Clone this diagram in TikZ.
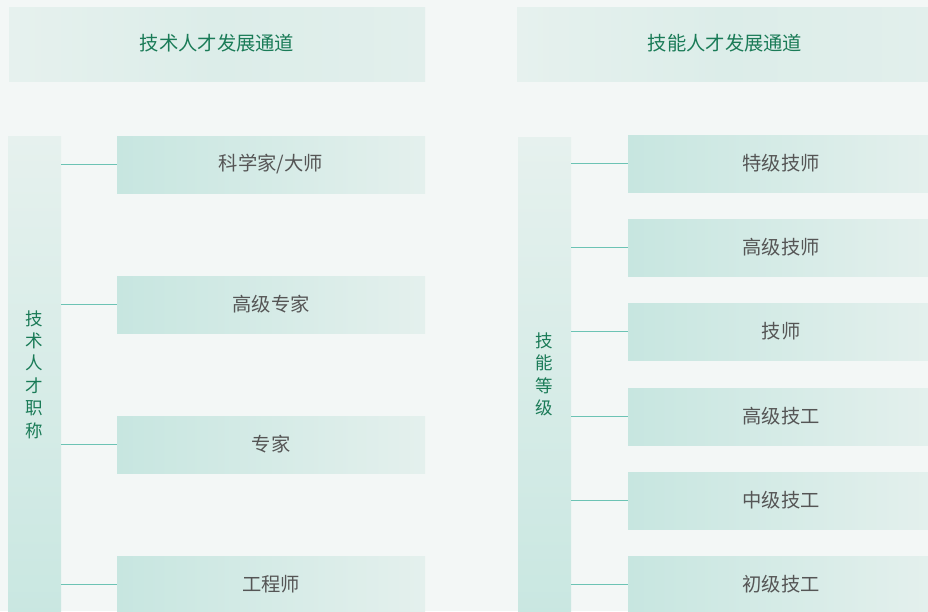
\documentclass[tikz,border=0pt]{standalone}
\usepackage{fontspec}
\setmainfont{Noto Sans CJK SC}
\definecolor{bgc}{HTML}{F3F7F6}
\definecolor{titlegreen}{HTML}{1A7B57}
\definecolor{boxtext}{HTML}{555555}
\definecolor{linec}{HTML}{6CC3B4}
\definecolor{hdA}{HTML}{E6F1EE}
\definecolor{hdB}{HTML}{DCEDE9}
\definecolor{hdC}{HTML}{E2EFEC}
\definecolor{bxA}{HTML}{C7E6E0}
\definecolor{bxB}{HTML}{E4F0ED}
\definecolor{barA}{HTML}{E6F1EE}
\definecolor{barB}{HTML}{C9E7E1}
\tikzset{
  header/.style={rectangle, inner sep=0pt, minimum height=74pt,
    left color=hdA, right color=hdC, middle color=hdB, draw=none,
    text=titlegreen, font=\fontsize{19.3}{22}\selectfont},
  levelbox/.style={rectangle, inner sep=0pt, minimum height=57pt,
    left color=bxA, right color=bxB, draw=none,
    text=boxtext, font=\fontsize{19.3}{22}\selectfont},
  sidebar/.style={rectangle, inner sep=0pt, minimum width=53pt,
    top color=barA, bottom color=barB, draw=none},
  vlabel/.style={inner sep=0pt, align=center, text=titlegreen,
    font=\fontsize{17.5}{22.4}\selectfont},
  conn/.style={draw=linec, line width=1.4pt}
}
\begin{document}
\begin{tikzpicture}[x=1pt,y=-1pt]
\useasboundingbox[fill=bgc] (0,0) rectangle (928,611);
% headers
\node[header, minimum width=416pt] (h1) at (217,44) {\raisebox{2.5pt}{技术人才发展通道}};
\node[header, minimum width=416pt] (h2) at (725,44) {\raisebox{2.5pt}{技能人才发展通道}};
% side bars
\node[sidebar, minimum height=480pt] (b1) at (34.5,376) {};
\node[sidebar, minimum height=479pt] (b2) at (544.5,376.5) {};
\node[vlabel] (v1) at (34.5,374.5) {技\\术\\人\\才\\职\\称};
\node[vlabel] (v2) at (544.5,374.5) {技\\能\\等\\级};
% left boxes
\node[levelbox, minimum width=308pt] (l1) at (271,164.5) {科学家/大师};
\node[levelbox, minimum width=308pt] (l2) at (271,304.5) {高级专家};
\node[levelbox, minimum width=308pt] (l3) at (271,444.5) {专家};
\node[levelbox, minimum width=308pt] (l4) at (271,584.5) {工程师};
% right boxes
\node[levelbox, minimum width=306pt] (r1) at (781,163.5) {特级技师};
\node[levelbox, minimum width=306pt] (r2) at (781,247.5) {高级技师};
\node[levelbox, minimum width=306pt] (r3) at (781,331.5) {技师};
\node[levelbox, minimum width=306pt] (r4) at (781,416.5) {高级技工};
\node[levelbox, minimum width=306pt] (r5) at (781,500.5) {中级技工};
\node[levelbox, minimum width=306pt] (r6) at (781,584.5) {初级技工};
% connectors
\foreach \n in {l1,l2,l3,l4}{
  \draw[conn] (b1.east |- \n.west) -- (\n.west);
}
\foreach \n in {r1,r2,r3,r4,r5,r6}{
  \draw[conn] (b2.east |- \n.west) -- (\n.west);
}
\end{tikzpicture}
\end{document}
